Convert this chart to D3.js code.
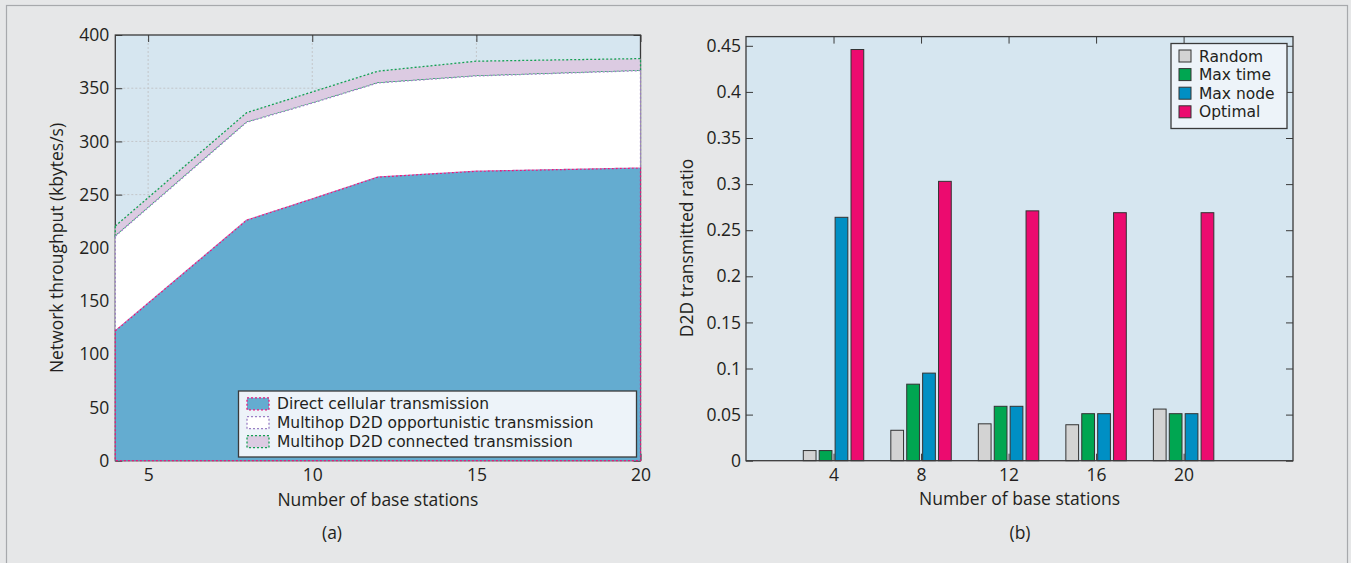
<!DOCTYPE html>
<html><head><meta charset="utf-8">
<script src="https://cdn.jsdelivr.net/npm/d3@7"></script>
<style>
body{margin:0;background:#e6e7e8}
svg{display:block}
text{font-family:"Open Sans",sans-serif;fill:#231f20}
text.leg{font-family:"DejaVu Sans",sans-serif}
</style></head>
<body><svg id="c" width="1351" height="563"></svg>
<script>
// ---------- data: panel (a) ----------
const thrX = [4, 8, 10, 12, 15, 20];
const direct = [122, 226, 246, 266.5, 272, 275];
const opportunistic = [89, 92, 90, 88.5, 89.5, 91.5];
const connected = [9.5, 9, 10.5, 11, 13.9, 11.3];
const thrSeries = ["Direct cellular transmission", "Multihop D2D opportunistic transmission", "Multihop D2D connected transmission"];
const thrYTicks = [0, 50, 100, 150, 200, 250, 300, 350, 400];
const thrXTicks = [5, 10, 15, 20];

// ---------- data: panel (b) ----------
const bsCats = [4, 8, 12, 16, 20];
const randomR = [0.011, 0.033, 0.040, 0.039, 0.056];
const maxTime = [0.011, 0.083, 0.059, 0.051, 0.051];
const maxNode = [0.264, 0.095, 0.059, 0.051, 0.051];
const optimal = [0.446, 0.303, 0.271, 0.269, 0.269];
const barSeries = ["Random", "Max time", "Max node", "Optimal"];
const ratioTicks = [0, 0.05, 0.1, 0.15, 0.2, 0.25, 0.3, 0.35, 0.4, 0.45];

const FS = 17.5;
const LFS = 15.5;
const svg = d3.select("#c");
svg.append("rect").attr("width", 1351).attr("height", 563).attr("fill", "#e6e7e8");
svg.append("rect").attr("x", 6.5).attr("y", 5.5).attr("width", 1341).attr("height", 620)
  .attr("fill", "none").attr("stroke", "#a7a9ac").attr("stroke-width", 1.2);

const axisCol = "#3a3a3a";
function styleAxis(g, hideLabels) {
  g.select(".domain").remove();
  g.selectAll(".tick line").attr("stroke", axisCol).attr("stroke-width", 1);
  g.selectAll(".tick text").style("font-size", FS + "px").attr("fill", "#231f20");
  if (hideLabels) g.selectAll(".tick text").remove();
}

// ================= Panel (a) =================
const L = {x0: 115.3, x1: 640.5, y0: 35, y1: 460.7};
const xL = d3.scaleLinear().domain([4, 20]).range([L.x0, L.x1]);
const yL = d3.scaleLinear().domain([0, 400]).range([L.y1, L.y0]);
const gA = svg.append("g");
gA.append("rect").attr("x", L.x0).attr("y", L.y0).attr("width", L.x1 - L.x0).attr("height", L.y1 - L.y0)
  .attr("fill", "#d6e6f0");
// grid
gA.selectAll(".gx").data(thrXTicks.filter(d => d < 20)).join("line")
  .attr("x1", d => xL(d)).attr("x2", d => xL(d)).attr("y1", L.y0).attr("y2", L.y1)
  .attr("stroke", "#c3c6c9").attr("stroke-dasharray", "2,2");
gA.selectAll(".gy").data(thrYTicks.filter(d => d > 0 && d < 400)).join("line")
  .attr("y1", d => yL(d)).attr("y2", d => yL(d)).attr("x1", L.x0).attr("x2", L.x1)
  .attr("stroke", "#c3c6c9").attr("stroke-dasharray", "2,2");
// axes
gA.append("g").attr("transform", `translate(${L.x0},0)`)
  .call(d3.axisLeft(yL).tickValues(thrYTicks).tickSize(-7).tickPadding(6)).call(g => styleAxis(g));
gA.append("g").attr("transform", `translate(${L.x1},0)`)
  .call(d3.axisRight(yL).tickValues(thrYTicks).tickSize(-7)).call(g => styleAxis(g, true));
gA.append("g").attr("transform", `translate(0,${L.y1})`)
  .call(d3.axisBottom(xL).tickValues(thrXTicks).tickSize(-7).tickPadding(8)).call(g => styleAxis(g));
gA.append("g").attr("transform", `translate(0,${L.y0})`)
  .call(d3.axisTop(xL).tickValues(thrXTicks).tickSize(-7)).call(g => styleAxis(g, true));
gA.append("rect").attr("x", L.x0).attr("y", L.y0).attr("width", L.x1 - L.x0).attr("height", L.y1 - L.y0)
  .attr("fill", "none").attr("stroke", axisCol).attr("stroke-width", 1.3);

// stacked areas
const rows = thrX.map((x, i) => ({x, a: direct[i], b: opportunistic[i], c: connected[i]}));
const stacked = d3.stack().keys(["a", "b", "c"])(rows);
const areaFill = ["#64acd0", "#ffffff", "#dccbe2"];
const areaStroke = ["#e8197d", "#9a80c4", "#14a053"];
const areaGen = d3.area().x(d => xL(d.data.x)).y0(d => yL(d[0])).y1(d => yL(d[1]));
for (let k = 2; k >= 0; k--) {
  gA.append("path").attr("d", areaGen(stacked[k]))
    .attr("fill", areaFill[k]).attr("stroke", areaStroke[k])
    .attr("stroke-width", 1.3).attr("stroke-dasharray", "2,2");
}

// legend (a)
const LG = {x: 238.5, y: 391, w: 398, h: 66};
gA.append("rect").attr("x", LG.x).attr("y", LG.y).attr("width", LG.w).attr("height", LG.h)
  .attr("fill", "#edf3f9").attr("stroke", axisCol).attr("stroke-width", 1.3);
thrSeries.forEach((s, i) => {
  const cy = 403.8 + i * 18.9;
  gA.append("rect").attr("x", 247).attr("y", cy - 6).attr("width", 22).attr("height", 12)
    .attr("fill", areaFill[i]).attr("stroke", areaStroke[i]).attr("stroke-width", 1.3)
    .attr("stroke-dasharray", "2,2");
  gA.append("text").attr("class", "leg").attr("x", 277).attr("y", cy).attr("dy", "0.36em")
    .style("font-size", LFS + "px").text(s);
});

gA.append("text").attr("x", (L.x0 + L.x1) / 2).attr("y", 505.5).attr("text-anchor", "middle")
  .style("font-size", FS + "px").text("Number of base stations");
gA.append("text").attr("transform", `translate(57,248) rotate(-90)`).attr("text-anchor", "middle")
  .attr("dy", "0.35em").style("font-size", FS + "px").text("Network throughput (kbytes/s)");
gA.append("text").attr("x", 332).attr("y", 539).attr("text-anchor", "middle")
  .style("font-size", FS + "px").text("(a)");

// ================= Panel (b) =================
const R = {x0: 746, x1: 1293, y0: 36.6, y1: 460.7};
const xR = d3.scaleLinear().domain([0, 25]).range([R.x0, R.x1]);
const yR = d3.scaleLinear().domain([0, 0.46]).range([R.y1, R.y0]);
const gB = svg.append("g");
gB.append("rect").attr("x", R.x0).attr("y", R.y0).attr("width", R.x1 - R.x0).attr("height", R.y1 - R.y0)
  .attr("fill", "#d6e6f0");
gB.append("g").attr("transform", `translate(${R.x0},0)`)
  .call(d3.axisLeft(yR).tickValues(ratioTicks).tickSize(-7).tickPadding(5).tickFormat(d3.format("")))
  .call(g => styleAxis(g));
gB.append("g").attr("transform", `translate(${R.x1},0)`)
  .call(d3.axisRight(yR).tickValues(ratioTicks).tickSize(-7)).call(g => styleAxis(g, true));
gB.append("g").attr("transform", `translate(0,${R.y1})`)
  .call(d3.axisBottom(xR).tickValues(bsCats).tickSize(-7).tickPadding(8)).call(g => styleAxis(g));
gB.append("g").attr("transform", `translate(0,${R.y0})`)
  .call(d3.axisTop(xR).tickValues(bsCats).tickSize(-7)).call(g => styleAxis(g, true));

// bars
const barVals = [randomR, maxTime, maxNode, optimal];
const barCols = ["#d3d3d3", "#00a651", "#008fc4", "#ec0b6f"];
const groupW = xR(4 * 0.727) - xR(0);
const xIn = d3.scaleBand().domain(barSeries).range([-groupW / 2, groupW / 2]).paddingInner(0.2).paddingOuter(0.1);
barSeries.forEach((s, si) => {
  gB.selectAll(".b" + si).data(bsCats).join("rect")
    .attr("x", (c) => xR(c) + xIn(s))
    .attr("width", xIn.bandwidth())
    .attr("y", (c, i) => yR(barVals[si][i]))
    .attr("height", (c, i) => yR(0) - yR(barVals[si][i]))
    .attr("fill", barCols[si]).attr("stroke", "#333").attr("stroke-width", 1);
});
gB.append("rect").attr("x", R.x0).attr("y", R.y0).attr("width", R.x1 - R.x0).attr("height", R.y1 - R.y0)
  .attr("fill", "none").attr("stroke", axisCol).attr("stroke-width", 1.3);

// legend (b)
gB.append("rect").attr("x", 1171).attr("y", 43.5).attr("width", 116).attr("height", 85)
  .attr("fill", "#edf3f9").attr("stroke", axisCol).attr("stroke-width", 1.3);
barSeries.forEach((s, i) => {
  const cy = 56 + i * 18.6;
  gB.append("rect").attr("x", 1179).attr("y", cy - 6).attr("width", 12).attr("height", 12)
    .attr("fill", barCols[i]).attr("stroke", "#333").attr("stroke-width", 1);
  gB.append("text").attr("class", "leg").attr("x", 1199).attr("y", cy).attr("dy", "0.36em")
    .style("font-size", LFS + "px").text(s);
});

gB.append("text").attr("x", (R.x0 + R.x1) / 2).attr("y", 505).attr("text-anchor", "middle")
  .style("font-size", FS + "px").text("Number of base stations");
gB.append("text").attr("transform", `translate(687,248) rotate(-90)`).attr("text-anchor", "middle")
  .attr("dy", "0.35em").style("font-size", FS + "px").text("D2D transmitted ratio");
gB.append("text").attr("x", 1020).attr("y", 538.5).attr("text-anchor", "middle")
  .style("font-size", FS + "px").text("(b)");
</script></body></html>
